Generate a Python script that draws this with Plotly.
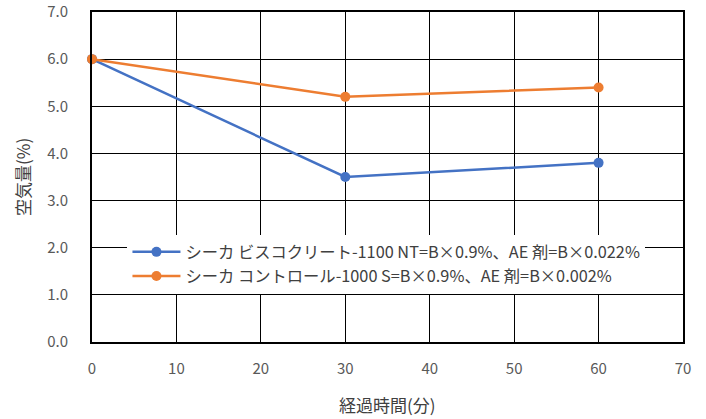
import plotly.graph_objects as go

minutes = [0, 30, 60]
series_names = [
    "シーカ ビスコクリート-1100 NT=B×0.9%、AE 剤=B×0.022%",
    "シーカ コントロール-1000 S=B×0.9%、AE 剤=B×0.002%",
]
blue_values = [6.0, 3.5, 3.8]
orange_values = [6.0, 5.2, 5.4]
y_ticks = [0, 1, 2, 3, 4, 5, 6, 7]
y_tick_labels = ["0.0", "1.0", "2.0", "3.0", "4.0", "5.0", "6.0", "7.0"]
x_ticks = [0, 10, 20, 30, 40, 50, 60, 70]

font = "Noto Sans CJK JP"
fig = go.Figure()
for name, vals, col in [(series_names[0], blue_values, "#4472C4"),
                        (series_names[1], orange_values, "#ED7D31")]:
    fig.add_trace(go.Scatter(
        x=minutes, y=vals, name=name, mode="lines+markers",
        line=dict(color=col, width=2.5),
        marker=dict(color=col, size=10),
        cliponaxis=False,
    ))

fig.update_layout(
    width=706, height=419,
    margin=dict(l=92, r=23, t=12, b=77),
    paper_bgcolor="white", plot_bgcolor="white",
    font=dict(family=font, color="#595959", size=15),
    showlegend=True,
    legend=dict(x=0.06, y=0.325, xanchor="left", yanchor="top",
                bgcolor="white", font=dict(size=16.3, color="#404040", family=font),
                itemwidth=48, tracegroupgap=0),
    xaxis=dict(range=[0, 70], tickvals=x_ticks, showgrid=True, gridcolor="black",
               gridwidth=1.3, showline=True, linecolor="black", linewidth=2, mirror=True,
               zeroline=False, ticks="", ticklabelstandoff=12, automargin=False,
               tickfont=dict(size=15, color="#595959")),
    yaxis=dict(range=[0, 7], tickvals=y_ticks, ticktext=y_tick_labels, showgrid=True,
               gridcolor="black", gridwidth=1.3, showline=True, linecolor="black",
               linewidth=2, mirror=True, zeroline=False, ticks="", ticklabelstandoff=19,
               automargin=False, tickfont=dict(size=15, color="#595959")),
    annotations=[
        dict(text="経過時間(分)", xref="paper", yref="paper", x=0.5, y=-62/330,
             xanchor="center", yanchor="middle", showarrow=False,
             font=dict(size=17, color="#404040", family=font)),
        dict(text="空気量(%)", xref="paper", yref="paper", x=-70/591, y=0.5,
             xanchor="center", yanchor="middle", showarrow=False, textangle=-90,
             font=dict(size=17, color="#404040", family=font)),
    ],
)
fig.write_html("out.html", config={"displayModeBar": False},
               post_script="document.body.style.margin='0';")
